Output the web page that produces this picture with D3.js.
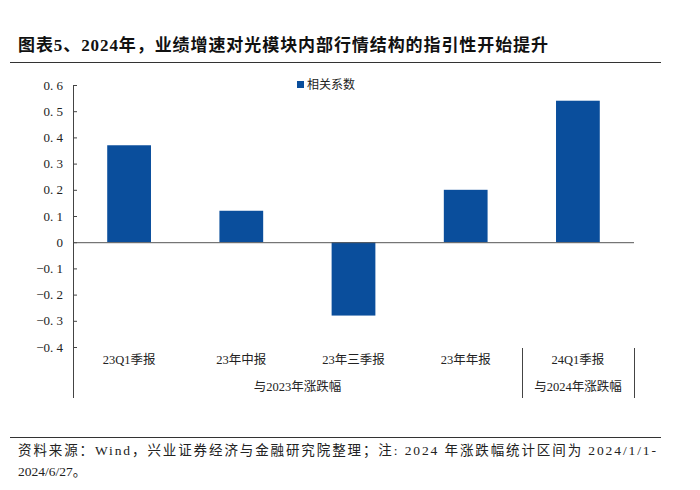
<!DOCTYPE html>
<html>
<head>
<meta charset="utf-8">
<script src="https://cdn.jsdelivr.net/npm/d3@7"></script>
<style>
  body { margin: 0; background: #fff; }
  text { font-family: "Liberation Serif", "Noto Sans CJK SC", serif; fill: #222; }
</style>
</head>
<body>
<script>
// chart data
var categories = ["23Q1季报", "23年中报", "23年三季报", "23年年报", "24Q1季报"];
var values = [0.37, 0.12, -0.28, 0.20, 0.54];
var yTicks = [0.6, 0.5, 0.4, 0.3, 0.2, 0.1, 0, -0.1, -0.2, -0.3, -0.4];
var groups = [
  { label: "与2023年涨跌幅", from: 0, to: 3 },
  { label: "与2024年涨跌幅", from: 4, to: 4 }
];
var seriesName = "相关系数";
var title = "图表5、2024年，业绩增速对光模块内部行情结构的指引性开始提升";
var note1 = "资料来源：Wind，兴业证券经济与金融研究院整理；注: 2024 年涨跌幅统计区间为 2024/1/1-";
var note2 = "2024/6/27。";

var W = 700, H = 490;
var plotLeft = 73, plotRight = 634, plotTop = 85, plotBottom = 347;
var barColor = "#0a4e9c";

var svg = d3.select("body").append("svg")
    .attr("width", W)
    .attr("height", H);

// title and rules
svg.append("text")
    .attr("x", 18).attr("y", 51)
    .attr("font-size", 17)
    .attr("font-weight", "bold")
    .attr("textLength", 530)
    .attr("lengthAdjust", "spacing")
    .style("fill", "#111")
    .text(title);

svg.append("line")
    .attr("x1", 10).attr("x2", 661).attr("y1", 62.5).attr("y2", 62.5)
    .attr("stroke", "#333").attr("stroke-width", 1);

svg.append("line")
    .attr("x1", 10).attr("x2", 661).attr("y1", 437.5).attr("y2", 437.5)
    .attr("stroke", "#333").attr("stroke-width", 1);

// scales
var x = d3.scaleBand().domain(categories).range([plotLeft, plotRight]).paddingInner(0.61).paddingOuter(0.305);
var y = d3.scaleLinear().domain([-0.4, 0.6]).range([plotBottom, plotTop]);

// y axis
function fmt(d) {
  if (d === 0) return "0";
  return d3.format(".1f")(d).replace("-", "−").replace(".", ". ");
}

var yAxis = svg.append("g")
    .attr("transform", "translate(" + plotLeft + ",0)")
    .call(d3.axisRight(y).tickValues(yTicks).tickSize(4).tickFormat(""));
yAxis.select(".domain").remove();
yAxis.selectAll(".tick line").attr("stroke", "#444");

svg.selectAll("text.ylab")
    .data(yTicks)
  .enter().append("text")
    .attr("class", "ylab")
    .attr("x", 63)
    .attr("y", function(d) { return y(d) + 4.5; })
    .attr("text-anchor", "end")
    .attr("font-size", 13)
    .text(fmt);

// bars
svg.selectAll("rect.bar")
    .data(values)
  .enter().append("rect")
    .attr("class", "bar")
    .attr("x", function(d, i) { return x(categories[i]); })
    .attr("width", x.bandwidth())
    .attr("y", function(d) { return y(Math.max(0, d)); })
    .attr("height", function(d) { return Math.abs(y(d) - y(0)); })
    .attr("fill", barColor);

// zero line and axis line
svg.append("line")
    .attr("x1", plotLeft).attr("x2", plotRight).attr("y1", y(0) + 0.5).attr("y2", y(0) + 0.5)
    .attr("stroke", "#555").attr("stroke-width", 1);

svg.append("line")
    .attr("x1", plotLeft + 0.5).attr("x2", plotLeft + 0.5).attr("y1", plotTop).attr("y2", 398)
    .attr("stroke", "#444").attr("stroke-width", 1);

// category labels
svg.selectAll("text.cat")
    .data(categories)
  .enter().append("text")
    .attr("class", "cat")
    .attr("x", function(d) { return x(d) + x.bandwidth() / 2; })
    .attr("y", 364)
    .attr("text-anchor", "middle")
    .attr("font-size", 12.5)
    .text(function(d) { return d; });

// group labels and separators
var step = x.step();
svg.selectAll("text.grp")
    .data(groups)
  .enter().append("text")
    .attr("class", "grp")
    .attr("x", function(g) {
      return (x(categories[g.from]) + x(categories[g.to]) + x.bandwidth()) / 2;
    })
    .attr("y", 391)
    .attr("text-anchor", "middle")
    .attr("font-size", 12.5)
    .text(function(g) { return g.label; });

groups.forEach(function(g) {
  var xr = x(categories[g.to]) + x.bandwidth() + (step - x.bandwidth()) / 2;
  svg.append("line")
      .attr("x1", Math.round(xr) + 0.5).attr("x2", Math.round(xr) + 0.5)
      .attr("y1", 348).attr("y2", 398)
      .attr("stroke", "#444").attr("stroke-width", 1);
});

// legend
svg.append("rect")
    .attr("x", 297).attr("y", 81).attr("width", 7).attr("height", 7)
    .attr("fill", barColor);
svg.append("text")
    .attr("x", 307).attr("y", 89)
    .attr("font-size", 12)
    .text(seriesName);

// footnote
svg.append("text")
    .attr("x", 18).attr("y", 455)
    .attr("font-size", 13.5)
    .attr("textLength", 638)
    .attr("lengthAdjust", "spacing")
    .text(note1);
svg.append("text")
    .attr("x", 18).attr("y", 476)
    .attr("font-size", 13.5)
    .text(note2);
</script>
</body>
</html>
